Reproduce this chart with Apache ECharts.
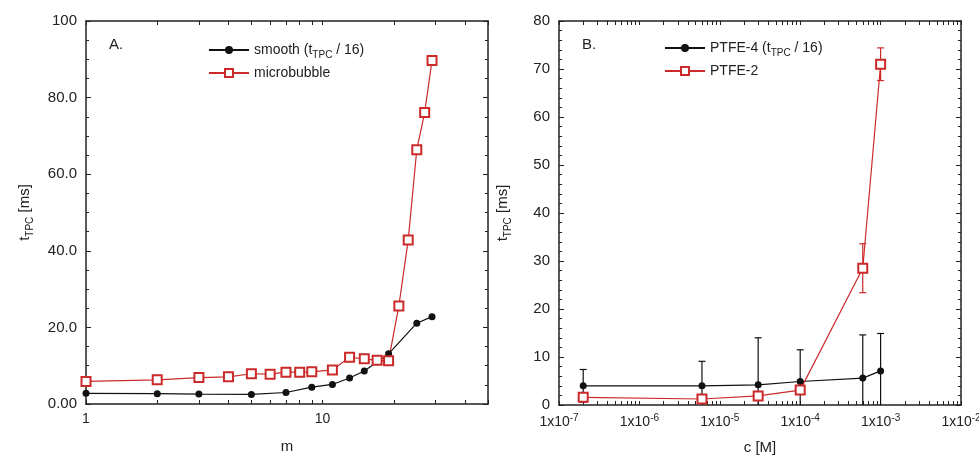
<!DOCTYPE html>
<html>
<head>
<meta charset="utf-8">
<script src="https://cdn.jsdelivr.net/npm/echarts@6/dist/echarts.min.js"></script>
<style>
  html, body { margin: 0; padding: 0; background: #fff; }
  #main { width: 979px; height: 455px; }
</style>
</head>
<body>
<div id="main"></div>
<script>
// panel A: t_TPC vs m
var smoothM = [1, 2, 3, 5, 7, 9, 11, 13, 15, 19, 25, 29];
var smoothT = [2.8, 2.7, 2.6, 2.5, 3.0, 4.4, 5.1, 6.8, 8.6, 13.1, 21.1, 22.8];
var bubbleM = [1, 2, 3, 4, 5, 6, 7, 8, 9, 11, 13, 15, 17, 19, 21, 23, 25, 27, 29];
var bubbleT = [5.9, 6.3, 6.9, 7.1, 7.9, 7.8, 8.3, 8.3, 8.4, 8.9, 12.2, 11.8, 11.4, 11.3, 25.6, 42.8, 66.4, 76.1, 89.7];
var yTicksA = ['0.00', '20.0', '40.0', '60.0', '80.0', '100'];

// panel B: t_TPC vs c
var conc = [2e-7, 6e-6, 3e-5, 1e-4, 6e-4, 1e-3];
var ptfe4 = [4.0, 4.0, 4.2, 4.9, 5.6, 7.1];
var ptfe4Err = [3.4, 5.1, 9.8, 6.6, 9.0, 7.8];
var ptfe2 = [1.6, 1.25, 1.9, 3.1, 28.5, 71.0];
var ptfe2Err = [0.8, 0.6, 0.8, 0.9, 5.1, 3.4];
var decadesB = [1e-7, 1e-6, 1e-5, 1e-4, 1e-3, 1e-2];

var RED = '#cc2a2a';
var INK = '#222';
var FONT = 'Liberation Sans';

function zip(xs, ys) { return xs.map(function (x, i) { return [x, ys[i]]; }); }
function zip3(xs, ys, es) { return xs.map(function (x, i) { return [x, ys[i], es[i]]; }); }

// log minor ticks 1..9 per decade
function logTicks(lo, hi) {
    var out = [];
    for (var e = lo; e < hi; e++) {
        for (var k = 1; k <= 9; k++) out.push(+(k * Math.pow(10, e)).toPrecision(6));
    }
    out.push(+Math.pow(10, hi).toPrecision(6));
    return out;
}
var ticksA = logTicks(0, 2).filter(function (v) { return v <= 50; });
var ticksB = logTicks(-7, -2);

var subRich = {
    sub: { fontSize: 10, fontFamily: FONT, color: INK, verticalAlign: 'bottom', padding: [10, 0, 0, 0] }
};
var supRich = {
    sup: { fontSize: 10, fontFamily: FONT, color: INK, verticalAlign: 'top', padding: [0, 0, 8, 0] }
};

function errBars(color) {
    return function (params, api) {
        var x = api.value(0), y = api.value(1), e = api.value(2);
        var top = api.coord([x, y + e]);
        var bot = api.coord([x, y - e]);
        var hw = 3.5;
        var st = { stroke: color, lineWidth: 1.2 };
        return {
            type: 'group',
            children: [
                { type: 'line', shape: { x1: top[0], y1: top[1], x2: bot[0], y2: bot[1] }, style: st },
                { type: 'line', shape: { x1: top[0] - hw, y1: top[1], x2: top[0] + hw, y2: top[1] }, style: st },
                { type: 'line', shape: { x1: bot[0] - hw, y1: bot[1], x2: bot[0] + hw, y2: bot[1] }, style: st }
            ]
        };
    };
}

function xAxisLog(grid, pos, min, max, ticks, labels, fmt, name) {
    return {
        type: 'log', gridIndex: grid, position: pos, min: min, max: max,
        name: name || '', nameLocation: 'middle', nameGap: 35,
        nameTextStyle: { fontFamily: FONT, fontSize: 15, color: INK },
        axisLine: { show: true, onZero: false, lineStyle: { color: INK, width: 1.5 } },
        axisTick: { show: true, inside: true, length: 4, customValues: ticks, lineStyle: { color: INK } },
        axisLabel: {
            show: !!labels, customValues: labels || [], formatter: fmt, margin: 8,
            fontFamily: FONT, fontSize: 14, color: INK, rich: supRich
        },
        splitLine: { show: false }
    };
}

function yAxisLin(grid, pos, max, interval, minorSplit, fmt) {
    return {
        type: 'value', gridIndex: grid, position: pos, min: 0, max: max, interval: interval,
        name: pos === 'left' ? 't{sub|TPC} [ms]' : '',
        nameLocation: 'middle', nameGap: grid === 0 ? 51 : 46,
        nameTextStyle: { fontFamily: FONT, fontSize: 15, color: INK, rich: subRich },
        axisLine: { show: true, onZero: false, lineStyle: { color: INK, width: 1.5 } },
        axisTick: { show: true, inside: true, length: 5, lineStyle: { color: INK } },
        minorTick: { show: true, splitNumber: minorSplit, length: 3, lineStyle: { color: INK } },
        axisLabel: { show: pos === 'left', formatter: fmt, margin: 9, fontFamily: FONT, fontSize: 15, color: INK },
        splitLine: { show: false }
    };
}

var chart = echarts.init(document.getElementById('main'));

var option = {
    backgroundColor: '#fff',
    animation: false,
    title: [
        { text: 'A.', left: 104, top: 32, textStyle: { fontFamily: FONT, fontSize: 15, fontWeight: 'normal', color: INK } },
        { text: 'B.', left: 577, top: 32, textStyle: { fontFamily: FONT, fontSize: 15, fontWeight: 'normal', color: INK } }
    ],
    legend: [
        {
            orient: 'vertical', left: 203, top: 38, itemWidth: 40, itemHeight: 10, itemGap: 6,
            data: ['smooth', 'microbubble'],
            formatter: function (n) { return n === 'smooth' ? 'smooth (t{sub|TPC} / 16)' : n; },
            textStyle: { fontFamily: FONT, fontSize: 14, color: INK, rich: subRich }
        },
        {
            orient: 'vertical', left: 659, top: 36, itemWidth: 40, itemHeight: 10, itemGap: 6,
            data: ['PTFE-4', 'PTFE-2'],
            formatter: function (n) { return n === 'PTFE-4' ? 'PTFE-4 (t{sub|TPC} / 16)' : n; },
            textStyle: { fontFamily: FONT, fontSize: 14, color: INK, rich: subRich }
        }
    ],
    grid: [
        { left: 86, right: 491, top: 21, bottom: 51, outerBoundsMode: 'none' },
        { left: 559, right: 18, top: 21, bottom: 50, outerBoundsMode: 'none' }
    ],
    xAxis: [
        xAxisLog(0, 'bottom', 1, 50, ticksA, [1, 10], function (v) { return String(Math.round(v)); }, 'm'),
        xAxisLog(0, 'top', 1, 50, ticksA, null, null),
        xAxisLog(1, 'bottom', 1e-7, 1e-2, ticksB, decadesB, function (v) {
            return '1x10{sup|' + Math.round(Math.log10(v)) + '}';
        }, 'c [M]'),
        xAxisLog(1, 'top', 1e-7, 1e-2, ticksB, null, null)
    ],
    yAxis: [
        yAxisLin(0, 'left', 100, 20, 4, function (v) { return yTicksA[Math.round(v / 20)]; }),
        yAxisLin(0, 'right', 100, 20, 4),
        yAxisLin(1, 'left', 80, 10, 5, function (v) { return String(v); }),
        yAxisLin(1, 'right', 80, 10, 5)
    ],
    series: [
        {
            name: 'smooth', type: 'line', xAxisIndex: 0, yAxisIndex: 0,
            data: zip(smoothM, smoothT),
            symbol: 'circle', symbolSize: 7,
            lineStyle: { color: '#111', width: 1.2 },
            itemStyle: { color: '#111' }
        },
        {
            name: 'microbubble', type: 'line', xAxisIndex: 0, yAxisIndex: 0,
            data: zip(bubbleM, bubbleT),
            symbol: 'rect', symbolSize: 9,
            lineStyle: { color: RED, width: 1.2 },
            itemStyle: { color: '#fff', borderColor: RED, borderWidth: 2 }
        },
        {
            name: 'ptfe4err', type: 'custom', xAxisIndex: 2, yAxisIndex: 2, clip: true,
            renderItem: errBars('#111'), data: zip3(conc, ptfe4, ptfe4Err), z: 1
        },
        {
            name: 'ptfe2err', type: 'custom', xAxisIndex: 2, yAxisIndex: 2, clip: true,
            renderItem: errBars(RED), data: zip3(conc, ptfe2, ptfe2Err), z: 1
        },
        {
            name: 'PTFE-4', type: 'line', xAxisIndex: 2, yAxisIndex: 2,
            data: zip(conc, ptfe4),
            symbol: 'circle', symbolSize: 7,
            lineStyle: { color: '#111', width: 1.2 },
            itemStyle: { color: '#111' }
        },
        {
            name: 'PTFE-2', type: 'line', xAxisIndex: 2, yAxisIndex: 2,
            data: zip(conc, ptfe2),
            symbol: 'rect', symbolSize: 9,
            lineStyle: { color: RED, width: 1.2 },
            itemStyle: { color: '#fff', borderColor: RED, borderWidth: 2 }
        }
    ]
};

chart.setOption(option);

window.onresize = chart.resize;
</script>
</body>
</html>
